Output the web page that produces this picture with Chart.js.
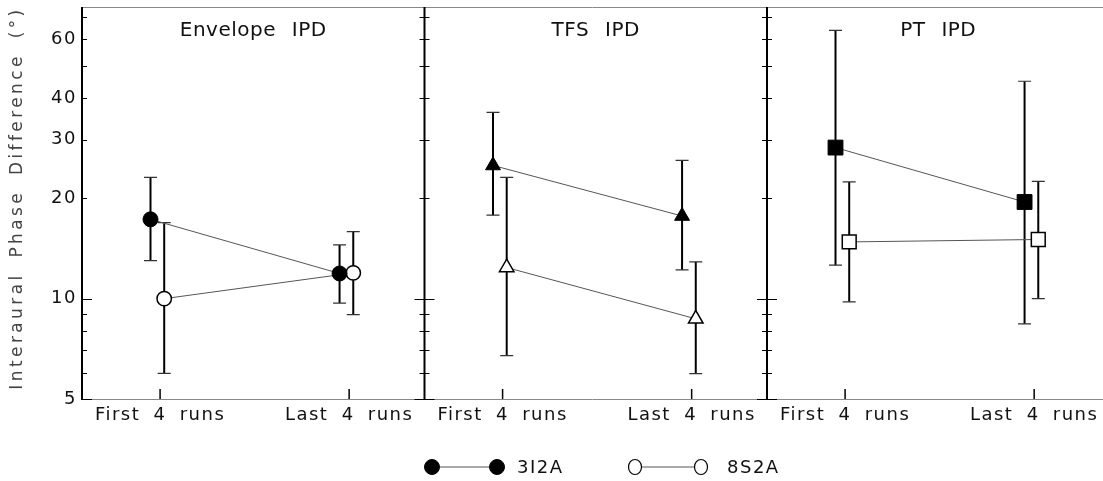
<!DOCTYPE html>
<html><head><meta charset="utf-8">
<script src="https://cdn.jsdelivr.net/npm/chart.js@4.4.0/dist/chart.umd.min.js"></script>
<style>html,body{margin:0;padding:0;background:#fff;}#wrap{width:1103px;height:481px;position:relative;}</style>
</head><body><div id="wrap"><canvas id="c"></canvas></div>
<script>
// ---- data ----
const panelTitles = ['Envelope IPD', 'TFS IPD', 'PT IPD'];
const runLabels = ['First 4 runs', 'Last 4 runs'];
const groupNames = ['3I2A', '8S2A'];
const yTicks = [5, 6, 7, 8, 9, 10, 20, 30, 40, 50, 60, 70];
const yLabelled = [5, 10, 20, 30, 40, 60];
const yAxisTitle = 'Interaural Phase Difference (°)';
// order: Envelope first, Envelope last, TFS first, TFS last, PT first, PT last
const mean3I2A  = [17.3, 11.9, 25.1, 17.7, 28.4, 19.5];
const lower3I2A = [13.0, 9.7, 17.8, 12.2, 12.6, 8.4];
const upper3I2A = [23.1, 14.5, 36.2, 26.0, 63.8, 44.9];
const mean8S2A  = [10.0, 11.95, 12.4, 8.7, 14.8, 15.05];
const lower8S2A = [5.97, 8.95, 6.75, 5.96, 9.78, 10.0];
const upper8S2A = [16.9, 15.9, 23.1, 12.9, 22.4, 22.5];

// ---- layout / style ----
const RUN_POS = [0.228, 0.78];
const GROUP_SHIFT = [-0.028, 0.012];
const X_MAX = 2.981;
const MARKERS = ['circle', 'triangle', 'rect'];
const RADII = [[7.5, 7.2], [8.6, 8.4], [10.5, 9.8]];
const FONT = "'DejaVu Sans', sans-serif";

const means = [mean3I2A, mean8S2A], lows = [lower3I2A, lower8S2A], highs = [upper3I2A, upper8S2A];
const datasets = [];
for (let p = 0; p < 3; p++) {
  for (let g = 0; g < 2; g++) {
    datasets.push({
      label: groupNames[g] + ' ' + panelTitles[p],
      data: [0, 1].map(r => ({
        x: p + RUN_POS[r] + GROUP_SHIFT[g],
        y: means[g][p * 2 + r], lo: lows[g][p * 2 + r], hi: highs[g][p * 2 + r]
      })),
      showLine: true,
      borderColor: '#555',
      borderWidth: 1,
      pointStyle: MARKERS[p],
      pointRadius: RADII[p][g],
      pointBackgroundColor: g ? '#fff' : '#000',
      pointBorderColor: '#000',
      pointBorderWidth: g ? 1.5 : 1,
      order: g
    });
  }
}
const xTickPos = [];
for (let p = 0; p < 3; p++) for (let r = 0; r < 2; r++) xTickPos.push(p + RUN_POS[r]);

const zeroPad = s => { s.paddingTop = 0; s.paddingBottom = 0; s.paddingLeft = 0; s.paddingRight = 0; };

const framePlugin = {
  id: 'frame',
  beforeDraw(chart) {
    chart.ctx.letterSpacing = '1.5px';
    chart.ctx.wordSpacing = '6px';
  },
  beforeDatasetsDraw(chart) {
    const ctx = chart.ctx, a = chart.chartArea, xs = chart.scales.x, ys = chart.scales.y;
    ctx.save();
    ctx.strokeStyle = '#888'; ctx.lineWidth = 1;
    ctx.beginPath();
    ctx.moveTo(a.left, a.top + 0.5); ctx.lineTo(a.right, a.top + 0.5);
    ctx.moveTo(a.left, a.bottom + 0.5); ctx.lineTo(a.right, a.bottom + 0.5);
    ctx.stroke();
    ctx.strokeStyle = '#000';
    for (let b = 0; b <= 3; b++) {
      const x = xs.getPixelForValue(b);
      if (x > a.right + 5) continue;
      ctx.lineWidth = 2;
      ctx.beginPath(); ctx.moveTo(x, a.top); ctx.lineTo(x, a.bottom + 1); ctx.stroke();
      ctx.lineWidth = 1;
      yTicks.forEach(v => {
        const y = Math.round(ys.getPixelForValue(v)) + 0.5;
        const len = (v === 5 || v === 10) ? 10 : 5;
        ctx.beginPath();
        ctx.moveTo(b === 0 ? x : x - len, y); ctx.lineTo(x + len, y); ctx.stroke();
      });
    }
    ctx.lineWidth = 1.5;
    xTickPos.forEach(v => {
      const x = xs.getPixelForValue(v);
      ctx.beginPath(); ctx.moveTo(x, a.bottom); ctx.lineTo(x, a.bottom - 10); ctx.stroke();
    });
    chart.data.datasets.forEach(ds => {
      ds.data.forEach(d => {
        const x = xs.getPixelForValue(d.x);
        const yt = ys.getPixelForValue(d.hi), yb = ys.getPixelForValue(d.lo);
        ctx.strokeStyle = '#000'; ctx.lineWidth = 2;
        ctx.beginPath(); ctx.moveTo(x, yt); ctx.lineTo(x, yb); ctx.stroke();
        ctx.strokeStyle = '#333'; ctx.lineWidth = 1.2;
        ctx.beginPath();
        ctx.moveTo(x - 6.5, yt); ctx.lineTo(x + 6.5, yt);
        ctx.moveTo(x - 6.5, yb); ctx.lineTo(x + 6.5, yb);
        ctx.stroke();
      });
    });
    ctx.restore();
  },
  afterDraw(chart) {
    const ctx = chart.ctx, xs = chart.scales.x;
    ctx.save();
    ctx.fillStyle = '#111';
    ctx.font = '20px ' + FONT;
    ctx.letterSpacing = '0.5px';
    ctx.wordSpacing = '9px';
    ctx.textAlign = 'center'; ctx.textBaseline = 'middle';
    panelTitles.forEach((t, p) => {
      ctx.fillText(t, xs.getPixelForValue(p + 0.5), 31);
    });
    ctx.save();
    ctx.translate(18, 198);
    ctx.rotate(-Math.PI / 2);
    ctx.font = '17px ' + FONT;
    ctx.fillStyle = '#444';
    ctx.letterSpacing = '3.4px';
    ctx.wordSpacing = '6px';
    ctx.fillText(yAxisTitle, 0, 0);
    ctx.restore();
    const ly = 467;
    ctx.font = '18px ' + FONT;
    ctx.letterSpacing = '1.5px';
    ctx.textAlign = 'left';
    const legend = [
      { x1: 432, x2: 497, tx: 517, fill: '#000' },
      { x1: 635, x2: 701, tx: 727, fill: '#fff' }
    ];
    legend.forEach((l, g) => {
      ctx.strokeStyle = '#555'; ctx.lineWidth = 1;
      ctx.beginPath(); ctx.moveTo(l.x1 + 7, ly); ctx.lineTo(l.x2 - 7, ly); ctx.stroke();
      [l.x1, l.x2].forEach(cx => {
        ctx.beginPath();
        if (g === 0) ctx.arc(cx, ly, 7.5, 0, Math.PI * 2);
        else ctx.ellipse(cx, ly, 6.5, 7.5, 0, 0, Math.PI * 2);
        ctx.fillStyle = l.fill; ctx.fill();
        ctx.strokeStyle = '#000'; ctx.lineWidth = g ? 1.2 : 1; ctx.stroke();
      });
      ctx.fillStyle = '#111';
      ctx.fillText(groupNames[g], l.tx, ly + 1);
    });
    ctx.restore();
  }
};

new Chart(document.getElementById('c'), {
  type: 'scatter',
  data: { datasets },
  plugins: [framePlugin],
  options: {
    responsive: true,
    maintainAspectRatio: false,
    animation: false,
    layout: { autoPadding: false, padding: { top: 7, left: 0, right: 0, bottom: 0 } },
    plugins: { legend: { display: false }, tooltip: { enabled: false } },
    scales: {
      x: {
        type: 'linear', min: 0, max: X_MAX,
        afterBuildTicks: s => { s.ticks = xTickPos.map(v => ({ value: v })); },
        afterFit: s => { s.height = 82; zeroPad(s); },
        grid: { display: false, drawTicks: false },
        border: { display: false },
        ticks: {
          autoSkip: false, maxRotation: 0, padding: 6,
          font: { family: FONT, size: 18 }, color: '#111',
          callback: (v, i) => runLabels[i % 2]
        }
      },
      y: {
        type: 'logarithmic', min: 5, max: 75,
        afterBuildTicks: s => { s.ticks = yTicks.map(v => ({ value: v })); },
        afterFit: s => { s.width = 82; zeroPad(s); },
        grid: { display: false, drawTicks: false },
        border: { display: false },
        ticks: {
          autoSkip: false, padding: 5,
          font: { family: FONT, size: 18 }, color: '#111',
          callback: v => yLabelled.includes(v) ? String(v) : ''
        }
      }
    }
  }
});
</script></body></html>
